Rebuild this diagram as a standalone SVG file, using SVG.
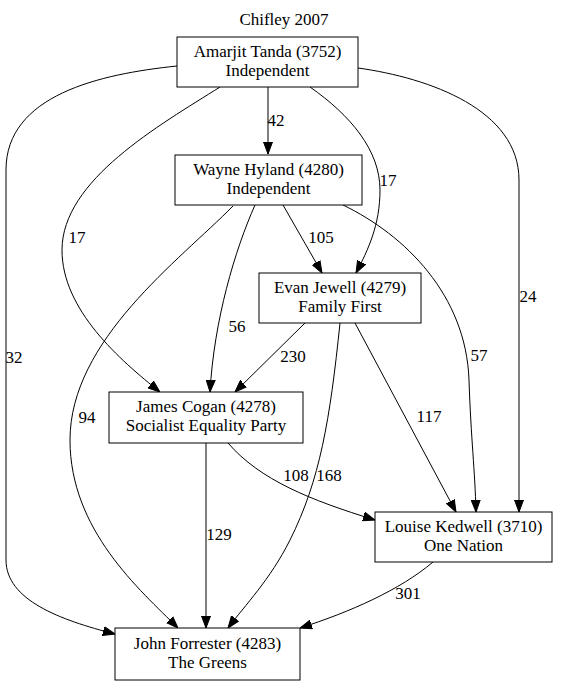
<svg xmlns="http://www.w3.org/2000/svg" width="571" height="685" viewBox="0 0 571 685" font-family="'Liberation Serif', 'DejaVu Serif', serif">
<style>
text{font-family:"Liberation Serif","DejaVu Serif",serif;font-size:17px;fill:#000;text-anchor:middle}
.node rect{fill:#fff;stroke:#000;stroke-width:1}
.edge path{fill:none;stroke:#000;stroke-width:1;marker-end:url(#ah)}
</style>
<defs>
<marker id="ah" markerUnits="userSpaceOnUse" markerWidth="12" markerHeight="10" refX="12" refY="4.5" orient="auto" viewBox="0 0 12 9">
<path d="M0,0 L12,4.5 L0,9 z" fill="#000" stroke="#000"/>
</marker>
</defs>
<rect width="571" height="685" fill="#fff"/>
<text x="284" y="25">Chifley 2007</text>
<g id="edges" class="edge">
<path d="M268,87 L268,154"/>
<path d="M310,87 C350,115 380,150 380,190 C380,225 368,250 356,273"/>
<path d="M358,68 C430,78 519,110 519,180 L519,512"/>
<path d="M177,66 C100,74 6,95 6,170 L6,560 C6,600 60,620 115,634"/>
<path d="M220,87 C160,125 62,180 62,250 C62,310 120,360 160,392"/>
<path d="M283,205 L322,273"/>
<path d="M255,205 C235,250 214,320 210,392"/>
<path d="M233,206 C180,260 70,340 70,440 C70,530 140,590 178,628"/>
<path d="M343,205 C405,235 466,295 469,380 C471,440 475,470 476,512"/>
<path d="M305,323 L235,392"/>
<path d="M340,323 C330,420 320,480 290,540 C270,580 245,605 228,628"/>
<path d="M355,323 L456,512"/>
<path d="M206,443 L206,628"/>
<path d="M228,443 C260,480 310,500 375,520"/>
<path d="M433,562 C400,590 350,612 300,628"/>
<text x="276" y="126">42</text>
<text x="388" y="186">17</text>
<text x="528" y="302">24</text>
<text x="14" y="363">32</text>
<text x="77" y="243">17</text>
<text x="321" y="243">105</text>
<text x="237" y="332">56</text>
<text x="87" y="423">94</text>
<text x="479" y="361">57</text>
<text x="293" y="362">230</text>
<text x="429" y="422">117</text>
<text x="329" y="481">168</text>
<text x="296" y="481">108</text>
<text x="219" y="540">129</text>
<text x="408" y="599">301</text>
</g>
<g id="amarjit" class="node"><rect x="177" y="37" width="181" height="50"/><text x="267.5" y="57">Amarjit Tanda (3752)</text><text x="267.5" y="76">Independent</text></g>
<g id="wayne" class="node"><rect x="175" y="155" width="187" height="50"/><text x="268.5" y="175">Wayne Hyland (4280)</text><text x="268.5" y="194">Independent</text></g>
<g id="evan" class="node"><rect x="259" y="273" width="162" height="50"/><text x="340" y="293">Evan Jewell (4279)</text><text x="340" y="312">Family First</text></g>
<g id="james" class="node"><rect x="109" y="392" width="194" height="51"/><text x="206" y="412">James Cogan (4278)</text><text x="206" y="431">Socialist Equality Party</text></g>
<g id="louise" class="node"><rect x="375" y="512" width="177" height="50"/><text x="463.5" y="532">Louise Kedwell (3710)</text><text x="463.5" y="551">One Nation</text></g>
<g id="john" class="node"><rect x="115" y="628" width="185" height="52"/><text x="207.5" y="649">John Forrester (4283)</text><text x="207.5" y="668">The Greens</text></g>
</svg>
